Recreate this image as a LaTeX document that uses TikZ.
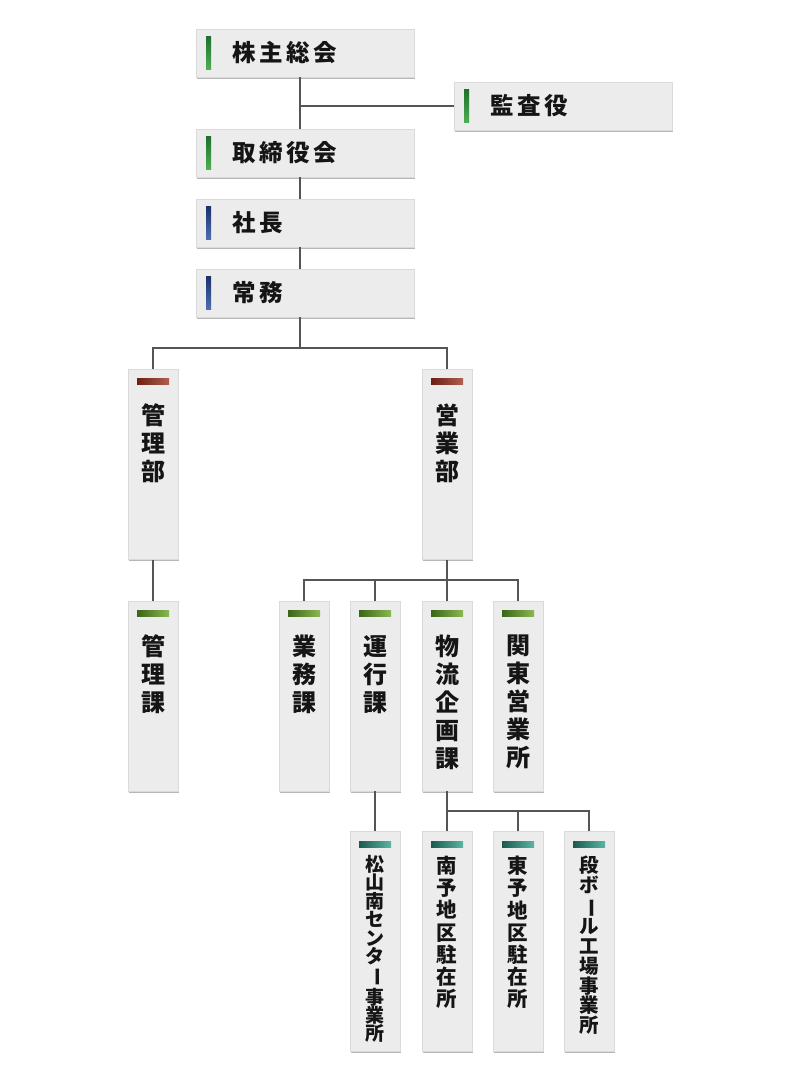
\documentclass[tikz,border=0pt]{standalone}
\usepackage{fontspec}
\setmainfont{Noto Sans CJK JP}
\usetikzlibrary{shadows}
\definecolor{boxgray}{HTML}{ECECEC}
\definecolor{boxedge}{HTML}{DADADA}
\definecolor{linegray}{HTML}{555555}
\definecolor{ink}{HTML}{151515}
\definecolor{gdark}{HTML}{1E6E2E}
\definecolor{glight}{HTML}{4CAF50}
\definecolor{bdark}{HTML}{1B2F6B}
\definecolor{blight}{HTML}{4A6FB0}
\definecolor{rdark}{HTML}{6E1E14}
\definecolor{rlight}{HTML}{B0604C}
\definecolor{odark}{HTML}{3B6518}
\definecolor{olight}{HTML}{8BB852}
\definecolor{tdark}{HTML}{1B5A4C}
\definecolor{tlight}{HTML}{5AB5A5}
\newcommand{\vbar}{\rotatebox[origin=c]{-90}{ー}}
\begin{document}
\begin{tikzpicture}[x=1pt,y=-1pt,
  line/.style={draw=linegray, line width=1.5pt},
  box/.style={fill=boxgray, draw=boxedge, line width=0.5pt, inner sep=0pt,
    drop shadow={shadow xshift=1pt, shadow yshift=-1.5pt, opacity=0.4, fill=black!70}},
  hbox/.style={box, minimum width=218pt, minimum height=48pt},
  vbox/.style={box, minimum width=50pt, minimum height=190pt},
  lbox/.style={box, minimum width=50pt, minimum height=220pt},
  htext/.style={font=\bfseries\fontsize{23.5}{26}\selectfont\addfontfeature{LetterSpace=15}, anchor=west, inner sep=0pt, text=ink},
  vtext/.style={font=\bfseries\fontsize{24}{28}\selectfont, anchor=north, align=center, inner sep=0pt, text=ink},
]
\useasboundingbox (0,0) rectangle (800,1079);
\coordinate (col) at (300,0);

% top boxes
\node[hbox] (kabu) at (305,53) {};
\node[hbox] (kansa) at (563,106) {};
\node[hbox] (tori) at (305,153) {};
\node[hbox] (shacho) at (305,223) {};
\node[hbox] (jomu) at (305,293) {};
\shade[top color=gdark, bottom color=glight] (206,36) rectangle (211,69);
\shade[top color=gdark, bottom color=glight] (464,89) rectangle (469,122);
\shade[top color=gdark, bottom color=glight] (206,136) rectangle (211,169);
\shade[top color=bdark, bottom color=blight] (206,206) rectangle (211,239);
\shade[top color=bdark, bottom color=blight] (206,276) rectangle (211,309);
\node[htext] (kabut) at (232,53) {株主総会};
\node[htext] (kansat) at (490,106) {監査役};
\node[htext] (torit) at (232,153) {取締役会};
\node[htext] (shachot) at (232,223) {社長};
\node[htext] (jomut) at (232,293) {常務};

% departments
\node[vbox] (kanribu) at (153,464.5) {};
\node[vbox] (eigyo) at (447,464.5) {};
\shade[left color=rdark, right color=rlight] (137,378) rectangle (169,384);
\shade[left color=rdark, right color=rlight] (431,378) rectangle (463,384);
\node[vtext] (kanribut) at (153,404) {管\\理\\部};
\node[vtext] (eigyot) at (447,404) {営\\業\\部};

% sections
\node[vbox] (kanrika) at (153,696) {};
\node[vbox] (gyomu) at (304,696) {};
\node[vbox] (unko) at (375,696) {};
\node[vbox] (butsu) at (447,696) {};
\node[vbox] (kanto) at (518,696) {};
\foreach \x in {153,304,375,447,518}
  \shade[left color=odark, right color=olight] (\x-16,610) rectangle (\x+16,616);
\node[vtext] (kanrikat) at (153,635) {管\\理\\課};
\node[vtext] (gyomut) at (304,635) {業\\務\\課};
\node[vtext] (unkot) at (375,635) {運\\行\\課};
\node[vtext] (butsut) at (447,635) {物\\流\\企\\画\\課};
\node[vtext] (kantot) at (518,635) {関\\東\\営\\業\\所};

% offices
\node[lbox] (matsu) at (375,941) {};
\node[lbox] (nanyo) at (447,941) {};
\node[lbox] (toyo) at (518,941) {};
\node[lbox] (danb) at (589,941) {};
\foreach \x in {375,447,518,589}
  \shade[left color=tdark, right color=tlight] (\x-16,841) rectangle (\x+16,847);
\node[vtext, font=\bfseries\fontsize{19}{18.4}\selectfont] (matsut) at (375,855) {松\\山\\南\\セ\\ン\\タ\\\vbar\\事\\業\\所};
\node[vtext, font=\bfseries\fontsize{20.5}{22.2}\selectfont] (nanyot) at (447,856) {南\\予\\地\\区\\駐\\在\\所};
\node[vtext, font=\bfseries\fontsize{20.5}{22.2}\selectfont] (toyot) at (518,856) {東\\予\\地\\区\\駐\\在\\所};
\node[vtext, font=\bfseries\fontsize{19.5}{19.8}\selectfont] (danbt) at (589,856) {段\\ボ\\\vbar\\ル\\工\\場\\事\\業\\所};

% connectors
\draw[line] (kabu.south -| col) -- (tori.north -| col);
\draw[line] (kansa.west -| col) -- (kansa.west);
\draw[line] (tori.south -| col) -- (shacho.north -| col);
\draw[line] (shacho.south -| col) -- (jomu.north -| col);
\coordinate (j1) at (300,348);
\draw[line] (jomu.south -| col) -- (j1);
\draw[line] (kanribu.north) |- (j1) -| (eigyo.north);
\draw[line] (kanribu.south) -- (kanrika.north);
\coordinate (e1) at (447,580);
\draw[line] (eigyo.south) -- (butsu.north);
\draw[line] (gyomu.north) |- (e1) -| (kanto.north);
\draw[line] (unko.north) -- (unko.north |- e1);
\draw[line] (unko.south) -- (matsu.north);
\coordinate (b1) at (447,811);
\draw[line] (butsu.south) -- (nanyo.north);
\draw[line] (b1) -| (danb.north);
\draw[line] (toyo.north) -- (toyo.north |- b1);
\end{tikzpicture}
\end{document}
